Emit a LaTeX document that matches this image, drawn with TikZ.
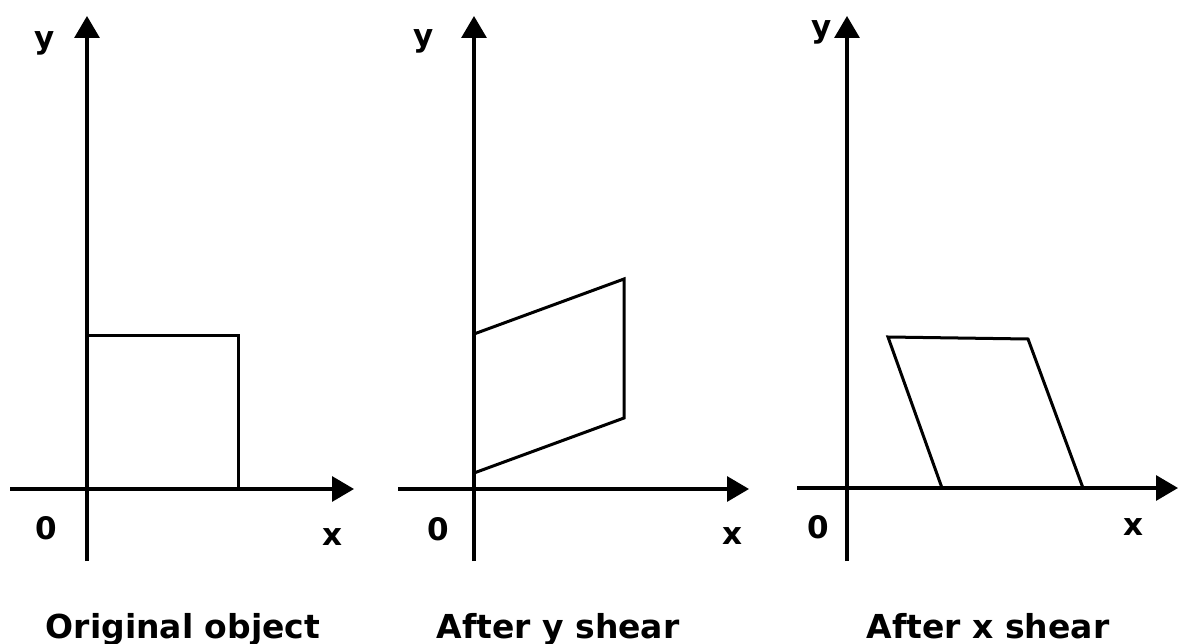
\documentclass[tikz,border=0pt]{standalone}
\usepackage{fontspec}
\setmainfont{DejaVu Sans}
\usetikzlibrary{arrows.meta}
\tikzset{
  axisarrow/.style={line width=3.2pt, -{Triangle[length=22pt,width=25pt]}},
  figline/.style={line width=3pt, line join=miter},
  lbl/.style={font=\fontsize{31}{31}\selectfont\bfseries, inner sep=0pt},
  captext/.style={font=\fontsize{33}{33}\selectfont\bfseries, inner sep=0pt, anchor=base}
}
\begin{document}
\begin{tikzpicture}[x=1pt,y=-1pt]
\useasboundingbox (0,0) rectangle (1178,644);
% ---------- panel 1 ----------
\coordinate (ya1) at (87,561);
\coordinate (yb1) at (87,16);
\coordinate (xa1) at (10,489);
\coordinate (xb1) at (354,489);
\draw[axisarrow] (ya1) -- (yb1);
\draw[axisarrow] (xa1) -- (xb1);
\coordinate (p1a) at (87,489);
\coordinate (p1b) at (87,335);
\coordinate (p1c) at (238,335);
\coordinate (p1d) at (238,489);
\draw[figline] (p1a) -- (p1b) -- (p1c) -- (p1d);
\node[lbl] (y1) at (45,43) {y};
\node[lbl] (o1) at (46,528) {0};
\node[lbl] (x1) at (332,537) {x};
\node[captext] (c1) at (183,638) {Original object};
% ---------- panel 2 ----------
\coordinate (ya2) at (474,561);
\coordinate (yb2) at (474,16);
\coordinate (xa2) at (398,489);
\coordinate (xb2) at (749,489);
\draw[axisarrow] (ya2) -- (yb2);
\draw[axisarrow] (xa2) -- (xb2);
\coordinate (p2a) at (474,473);
\coordinate (p2b) at (474,334);
\coordinate (p2c) at (624,279);
\coordinate (p2d) at (624,418);
\draw[figline] (p2a) -- (p2b) -- (p2c) -- (p2d) -- cycle;
\node[lbl] (y2) at (424,41) {y};
\node[lbl] (o2) at (438,529) {0};
\node[lbl] (x2) at (732,536) {x};
\node[captext] (c2) at (558,638) {After y shear};
% ---------- panel 3 ----------
\coordinate (ya3) at (847,561);
\coordinate (yb3) at (847,16);
\coordinate (xa3) at (797,488);
\coordinate (xb3) at (1178,488);
\draw[axisarrow] (ya3) -- (yb3);
\draw[axisarrow] (xa3) -- (xb3);
\coordinate (p3a) at (942,488);
\coordinate (p3b) at (888,337);
\coordinate (p3c) at (1028,339);
\coordinate (p3d) at (1083,488);
\draw[figline] (p3a) -- (p3b) -- (p3c) -- (p3d);
\node[lbl] (y3) at (822,32) {y};
\node[lbl] (o3) at (818,527) {0};
\node[lbl] (x3) at (1133,527) {x};
\node[captext] (c3) at (988,638) {After x shear};
\end{tikzpicture}
\end{document}
